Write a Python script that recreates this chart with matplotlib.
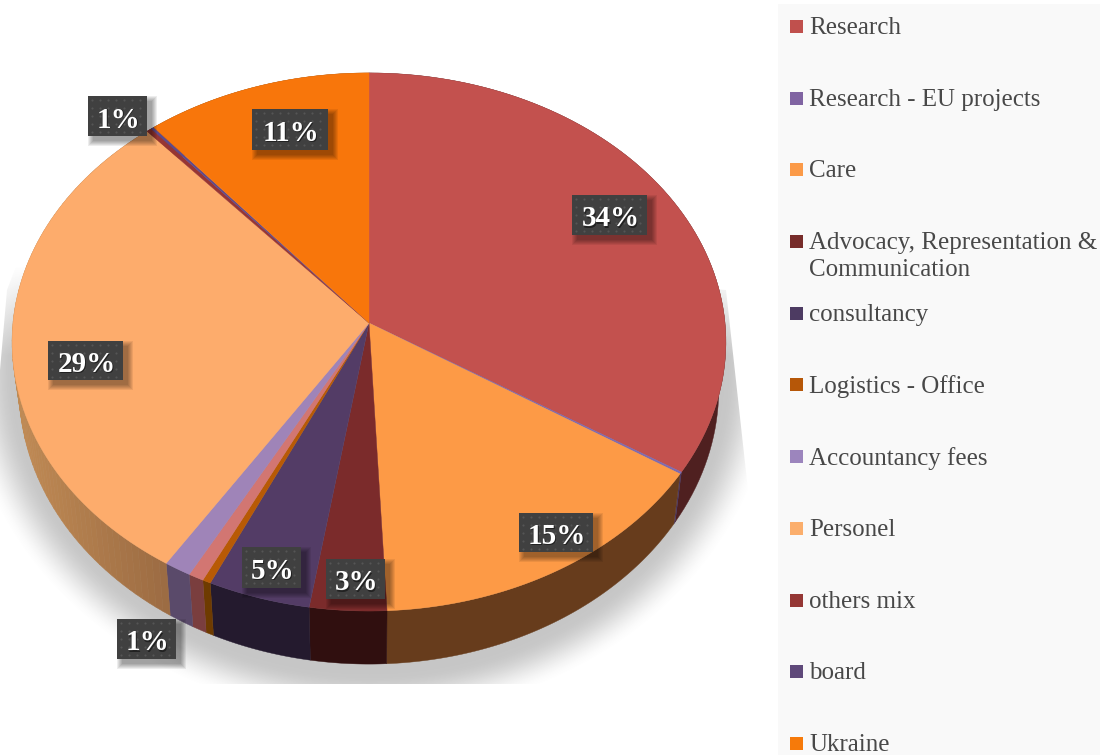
import numpy as np
import matplotlib
matplotlib.use("Agg")
import matplotlib.pyplot as plt
from matplotlib.patches import Rectangle, Polygon

plt.rcParams['font.family'] = ['Liberation Serif', 'DejaVu Serif']

# slices clockwise from 12 o'clock, percent
names = ['Research', 'Research - EU projects', 'Care', 'Advocacy, Representation &\nCommunication',
         'consultancy', 'Logistics - Office', None, 'Accountancy fees', 'Personel',
         'others mix', 'board', 'Ukraine']
values = [34.0, 0.12, 15.13, 3.25, 4.35, 0.35, 0.65, 1.15, 29.6, 0.25, 0.15, 11.0]
top_colors = ['#c3514e', '#7f6bb0', '#fd9a46', '#7b2b2b', '#533c66', '#b85a05',
              '#d27672', '#9f84b8', '#fdac6c', '#973533', '#5f4b8b', '#f8760b']
side_colors = ['#4f2020', '#4a3560', '#673c1c', '#300f0f', '#241a2e', '#6e3b00',
               '#7a3e3e', '#5a4a6a', '#a37144', '#5c2020', '#3a2d55', '#8a4406']
legend_colors = ['#c0504d', '#8064a2', '#fb9a48', '#772c2a', '#4d3b62', '#b65708',
                 None, '#9c85bd', '#fbae6c', '#953735', '#5f497a', '#f67a0a']
legend_y = [26, 98, 169, 241, 313, 384, None, 456, 528, 600, 671, 743]

# data labels: text and box in pixels
label_text = ['34%', '15%', '3%', '5%', '1%', '29%', '1%', '11%']
label_boxes = [(572, 195, 647, 235), (519, 513, 593, 552), (326, 559, 385, 599),
               (242, 547, 301, 588), (117, 619, 176, 659), (48, 341, 123, 380),
               (88, 96, 147, 136), (252, 109, 328, 150)]

# perspective of the pie plane, in pixels
cx, cy = 369, 323
A, B, k = 356.0, 267.7, 0.0706


def top_xy(a):
    u, v = np.sin(a), -np.cos(a)
    w = 1 - k * v
    return cx + A * u / w, cy + B * v / w


def bottom_xy(a):
    x, y = top_xy(a)
    return cx + 0.98 * (x - cx), 369.7 + 1.022 * (y - cy)


fig = plt.figure(figsize=(11, 7.55), dpi=100)
ax = fig.add_axes([0, 0, 1, 1])
ax.set_xlim(0, 1100)
ax.set_ylim(755, 0)
ax.axis('off')

# soft shadow below the pie, cut off hard like in the picture
yy, xx = np.mgrid[0:755, 0:1100]
d = np.sqrt(((xx - 369) / 395.0) ** 2 + ((yy - 368) / 340.0) ** 2)
fade = np.clip((1.03 - d) / 0.13, 0, 1)
fade = fade * fade * (3 - 2 * fade)
fade = fade * np.clip((yy - 265) / 90.0, 0, 1)
shadow = np.zeros((755, 1100, 4))
shadow[..., :3] = 0.45
shadow[..., 3] = 0.40 * fade
img = ax.imshow(shadow, extent=[0, 1100, 755, 0], aspect='auto', zorder=1)
clip = Polygon([(30, 230), (7, 290), (0, 370), (0, 684), (748, 684), (748, 490), (726, 290)],
               closed=True, transform=ax.transData)
img.set_clip_path(clip)
ax.set_xlim(0, 1100)
ax.set_ylim(755, 0)

# wedges
edges = np.radians(np.cumsum([0] + values) * 360 / sum(values))
for i, val in enumerate(values):
    a = np.linspace(edges[i], edges[i + 1], 80)
    tx, ty = top_xy(a)
    bx, by = bottom_xy(a)
    if names[i] == 'Personel':
        # wall gets a bit lighter towards the left
        for j in range(len(a) - 1):
            f = np.clip((tx[j] - 20) / 150, 0, 1)
            col = np.array([0.75, 0.54, 0.33]) * (1 - f) + np.array([0.61, 0.42, 0.26]) * f
            ax.fill([tx[j], tx[j + 1], bx[j + 1], bx[j]], [ty[j], ty[j + 1], by[j + 1], by[j]],
                    color=col, lw=0.4, zorder=2)
    else:
        ax.fill(np.r_[tx, bx[::-1]], np.r_[ty, by[::-1]], color=side_colors[i], lw=0.3, zorder=2)
for i, val in enumerate(values):
    a = np.linspace(edges[i], edges[i + 1], 80)
    tx, ty = top_xy(a)
    ax.fill(np.r_[cx, tx], np.r_[cy, ty], color=top_colors[i], lw=0.3, zorder=3)

# data labels
for txt, (x0, y0, x1, y1) in zip(label_text, label_boxes):
    for s in range(6, 0, -1):
        ax.add_patch(Rectangle((x0 + 6 - s, y0 + 6 - s), x1 - x0 + 2 * s - 2, y1 - y0 + 2 * s - 2,
                               fc='black', ec='none', alpha=0.07, zorder=4))
    ax.add_patch(Rectangle((x0, y0), x1 - x0, y1 - y0, fc='#404040', ec='none', zorder=5))
    dx = np.arange(x0 + 4, x1 - 1, 8)
    dy = np.arange(y0 + 4, y1 - 1, 8)
    gx, gy = np.meshgrid(dx, dy)
    ax.scatter(gx.ravel(), gy.ravel(), s=2.5, c='#555555', lw=0, zorder=6)
    ax.text((x0 + x1) / 2 + 2, (y0 + y1) / 2 + 5, txt, color='#222222', fontsize=21, weight='bold',
            ha='center', va='center', zorder=7)
    ax.text((x0 + x1) / 2 + 1, (y0 + y1) / 2 + 4, txt, color='white', fontsize=21, weight='bold',
            ha='center', va='center', zorder=8)

# legend
ax.add_patch(Rectangle((778, 4), 322, 751, fc='#f9f9f9', ec='none', zorder=1.5))
for name, col, y in zip(names, legend_colors, legend_y):
    if name is None:
        continue
    ax.add_patch(Rectangle((790, y - 6.5), 13, 13, fc=col, ec='none', zorder=5))
    ax.text(809, y - 9, name, color='#484848', fontsize=18, ha='left', va='top',
            linespacing=1.3, zorder=5)

fig.savefig('out.png', dpi=100)
